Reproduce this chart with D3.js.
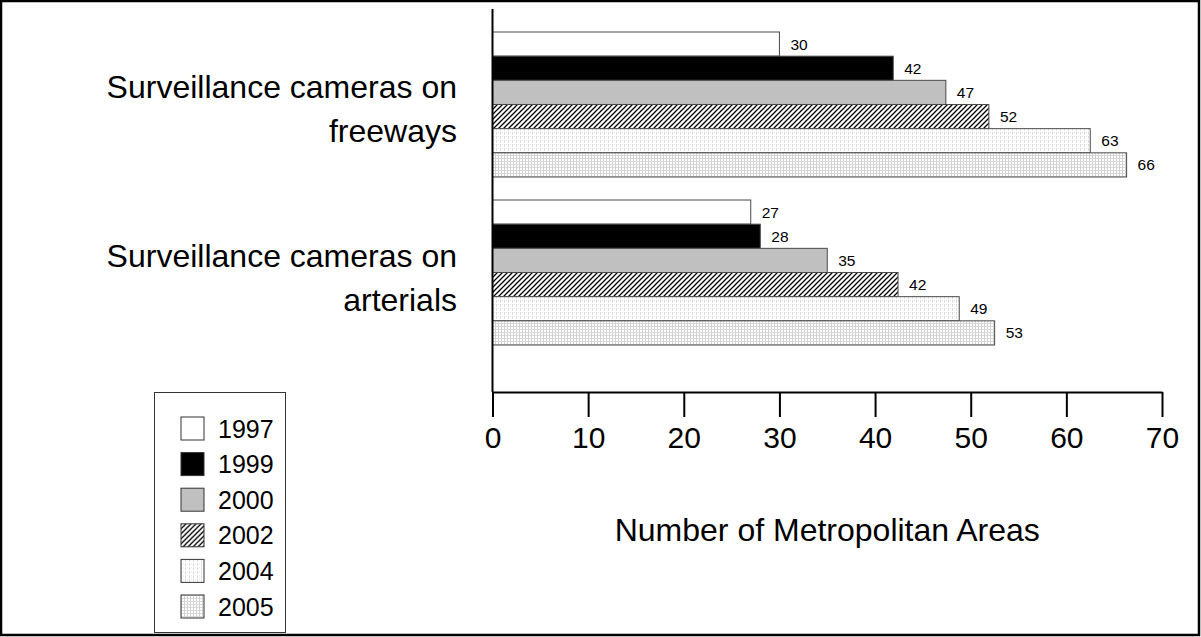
<!DOCTYPE html>
<html><head><meta charset="utf-8">
<script src="https://cdn.jsdelivr.net/npm/d3@7"></script>
<style>body{margin:0;background:#fff}svg{display:block;font-family:Arial,"Liberation Sans",sans-serif}</style>
</head><body><svg id="c" width="1201" height="637"></svg>
<script>
const categories = ["freeways", "arterials"];
const categoryLabels = [["Surveillance cameras on", "freeways"], ["Surveillance cameras on", "arterials"]];
const years = ["1997", "1999", "2000", "2002", "2004", "2005"];
const freeways = [30, 41.9, 47.4, 51.9, 62.5, 66.3];
const arterials = [27, 28, 35, 42.4, 48.8, 52.5];
const xTicks = [0, 10, 20, 30, 40, 50, 60, 70];
const xTitle = "Number of Metropolitan Areas";
const seriesByCategory = [freeways, arterials];

const svg = d3.select("#c");
const defs = svg.append("defs");

// hatch pattern "/"
const h = defs.append("pattern").attr("id", "hatch").attr("patternUnits", "userSpaceOnUse")
  .attr("width", 5).attr("height", 5);
h.append("rect").attr("width", 5).attr("height", 5).attr("fill", "#fff");
h.append("path").attr("d", "M0,5 L5,0 M-1,1 L1,-1 M4,6 L6,4").attr("stroke", "#000").attr("stroke-width", 1.3);

// light dotted grid 2004
const d1 = defs.append("pattern").attr("id", "dot1").attr("patternUnits", "userSpaceOnUse")
  .attr("width", 4).attr("height", 4);
d1.append("rect").attr("width", 4).attr("height", 4).attr("fill", "#fff");
d1.append("rect").attr("x", 0).attr("y", 0).attr("width", 1).attr("height", 2).attr("fill", "#d8d8d8");
d1.append("rect").attr("x", 2).attr("y", 0).attr("width", 1).attr("height", 1).attr("fill", "#e4e4e4");
d1.append("rect").attr("x", 0).attr("y", 2).attr("width", 1).attr("height", 1).attr("fill", "#e4e4e4");

// denser dotted grid 2005
const d2 = defs.append("pattern").attr("id", "dot2").attr("patternUnits", "userSpaceOnUse")
  .attr("width", 3).attr("height", 3);
d2.append("rect").attr("width", 3).attr("height", 3).attr("fill", "#fff");
d2.append("rect").attr("x", 0).attr("y", 0).attr("width", 1).attr("height", 3).attr("fill", "#d0d0d0");
d2.append("rect").attr("x", 0).attr("y", 0).attr("width", 3).attr("height", 1).attr("fill", "#d8d8d8");

const fills = d3.scaleOrdinal().domain(years)
  .range(["#ffffff", "#000000", "#c0c0c0", "url(#hatch)", "url(#dot1)", "url(#dot2)"]);

// outer frame
svg.append("rect").attr("x", 1).attr("y", 1).attr("width", 1198).attr("height", 634)
  .attr("fill", "none").attr("stroke", "#000").attr("stroke-width", 2.5);

const x = d3.scaleLinear().domain([0, 70]).range([492.5, 1162]);
const y0 = d3.scaleBand().domain(categories).range([32, 345]).paddingInner(0.137).paddingOuter(0);
const y1 = d3.scaleBand().domain(years).range([0, y0.bandwidth()]);

// bars
const groups = svg.append("g").selectAll("g").data(categories).join("g")
  .attr("transform", d => `translate(0,${y0(d)})`);

groups.each(function (cat, ci) {
  const g = d3.select(this);
  const vals = seriesByCategory[ci].map((v, i) => ({ year: years[i], value: v }));
  g.selectAll("rect").data(vals).join("rect")
    .attr("x", x(0))
    .attr("y", d => y1(d.year))
    .attr("width", d => x(d.value) - x(0))
    .attr("height", y1.bandwidth())
    .attr("fill", d => fills(d.year))
    .attr("stroke", "#4a4a4a").attr("stroke-width", 1);
  g.selectAll("text").data(vals).join("text")
    .attr("x", d => x(d.value) + 11)
    .attr("y", d => y1(d.year) + y1.bandwidth() / 2)
    .attr("dy", "0.36em")
    .attr("font-size", 15.5)
    .text(d => d3.format(".0f")(d.value));
});

// category labels
categories.forEach((c, i) => {
  const cy = y0(c) + y0.bandwidth() / 2;
  const t = svg.append("text").attr("text-anchor", "end").attr("font-size", 32);
  categoryLabels[i].forEach((line, li) => {
    t.append("tspan").attr("x", 457).attr("y", cy - 6 + li * 44).text(line);
  });
});

// x axis
const xAxis = d3.axisBottom(x).tickValues(xTicks).tickSizeInner(25).tickSizeOuter(0).tickPadding(10);
const ax = svg.append("g").attr("transform", "translate(0,392)").call(xAxis);
ax.select(".domain").attr("stroke", "#000").attr("stroke-width", 2);
ax.selectAll(".tick line").attr("stroke", "#000").attr("stroke-width", 2);
ax.selectAll(".tick text").attr("font-size", 30).attr("fill", "#000")
  .attr("font-family", "Arial, 'Liberation Sans', sans-serif");

// y axis line
svg.append("line").attr("x1", x(0)).attr("x2", x(0)).attr("y1", 9).attr("y2", 392)
  .attr("stroke", "#000").attr("stroke-width", 2);

// axis title
svg.append("text").attr("x", (x(0) + x(70)) / 2).attr("y", 541).attr("text-anchor", "middle")
  .attr("font-size", 32).text(xTitle);

// legend
const lg = svg.append("g");
lg.append("rect").attr("x", 154.5).attr("y", 392.5).attr("width", 131).attr("height", 240)
  .attr("fill", "#fff").attr("stroke", "#333").attr("stroke-width", 1);
const ly = d3.scalePoint().domain(years).range([417, 595]);
const items = lg.selectAll("g.item").data(years).join("g").attr("class", "item")
  .attr("transform", d => `translate(181,${ly(d)})`);
items.append("rect").attr("width", 23).attr("height", 23).attr("fill", d => fills(d))
  .attr("stroke", "#333").attr("stroke-width", 1);
items.append("text").attr("x", 37).attr("y", 11.5).attr("dy", "0.36em").attr("font-size", 25).text(d => d);
</script>
</body></html>
